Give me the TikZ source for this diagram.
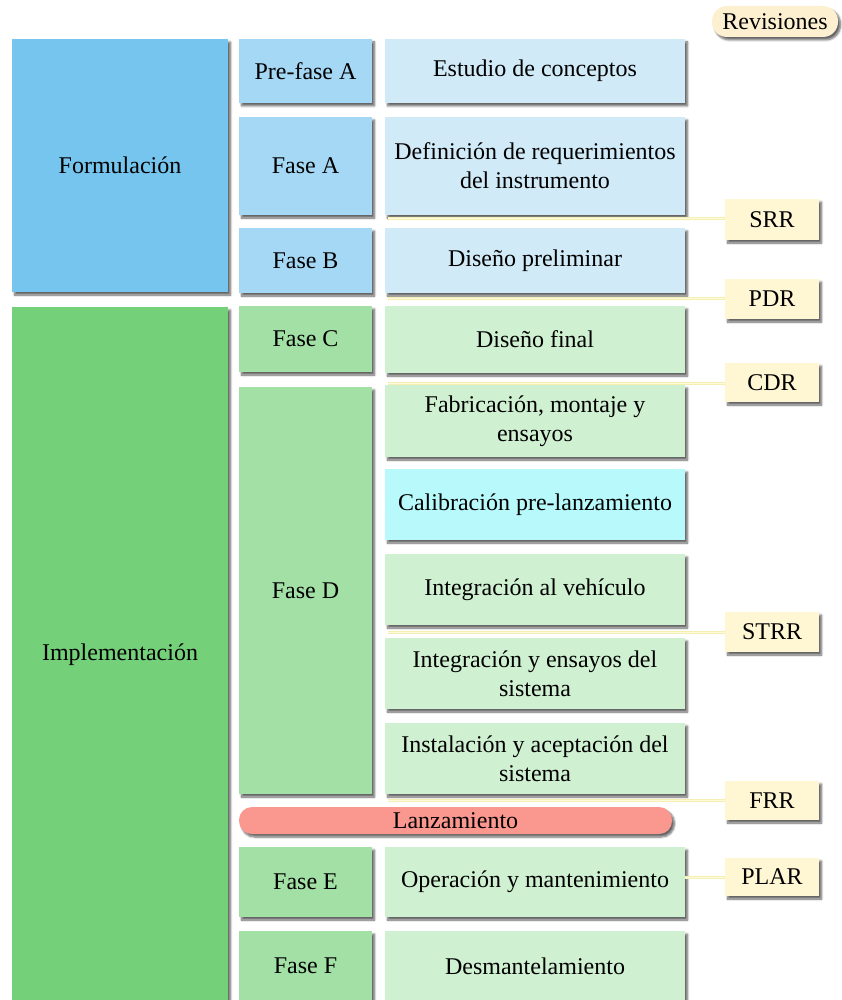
\documentclass[tikz,border=0pt]{standalone}
\usepackage{fontspec}
\setmainfont{Liberation Serif}
\usetikzlibrary{shadows,shadows.blur}
\definecolor{formB}{RGB}{117,197,238}
\definecolor{blueB}{RGB}{165,216,245}
\definecolor{blueC}{RGB}{208,234,248}
\definecolor{implG}{RGB}{117,208,122}
\definecolor{greenB}{RGB}{163,224,165}
\definecolor{greenC}{RGB}{208,240,210}
\definecolor{calib}{RGB}{184,250,252}
\definecolor{lanz}{RGB}{250,152,143}
\definecolor{revbox}{RGB}{255,247,212}
\definecolor{revpill}{RGB}{253,240,208}
\definecolor{connc}{RGB}{246,239,178}
\definecolor{connl}{RGB}{253,250,222}
\newcommand\pbox[7]{%
  \node[#2, minimum width={(#5-#3)*1pt}, minimum height={(#6-#4)*1pt}, anchor=north west] (#1) at (#3,-#4) {#7};}
\begin{document}
\begin{tikzpicture}[x=1pt,y=1pt,
  every node/.style={font=\fontsize{24}{29}\selectfont, inner sep=0pt, outer sep=0pt, align=center, text=black},
  shad/.style={blur shadow={shadow xshift=2.5pt,shadow yshift=-3pt,shadow blur steps=6,shadow blur radius=2pt,shadow opacity=60}},
  pbx/.style={fill=#1, shad},
  revb/.style={fill=revbox, shad},
  conn/.style={draw=connc, line width=3pt},
  connin/.style={draw=connl, line width=1pt}
]
\useasboundingbox (0,0) rectangle (842,-1000);
% column 1
\pbox{form}{pbx=formB}{12}{39}{228}{292}{Formulación}
\pbox{impl}{pbx=implG}{12}{307}{228}{1003}{Implementación}
% column 2
\pbox{prefa}{pbx=blueB}{239}{39}{372}{103}{Pre-fase A}
\pbox{fa}{pbx=blueB}{239}{117}{372}{215}{Fase A}
\pbox{fb}{pbx=blueB}{239}{228}{372}{293}{Fase B}
\pbox{fc}{pbx=greenB}{239}{306}{372}{372}{Fase C}
\pbox{fd}{pbx=greenB}{239}{387}{372}{794}{Fase D}
\pbox{fe}{pbx=greenB}{239}{847}{372}{917}{Fase E}
\pbox{ff}{pbx=greenB}{239}{931}{372}{1001}{Fase F}
% column 3
\pbox{est}{pbx=blueC}{385}{39}{685}{103}{Estudio de conceptos}
\pbox{defi}{pbx=blueC}{385}{117}{685}{215}{Definición de requerimientos\\del instrumento}
\pbox{dpre}{pbx=blueC}{385}{228}{685}{293}{Diseño preliminar}
\pbox{dfin}{pbx=greenC}{385}{306}{685}{373}{Diseño final}
\pbox{fab}{pbx=greenC}{385}{385}{685}{457}{Fabricación, montaje y\\ensayos}
\pbox{cal}{pbx=calib}{385}{469}{685}{540}{Calibración pre-lanzamiento}
\pbox{intv}{pbx=greenC}{385}{554}{685}{625}{Integración al vehículo}
\pbox{ints}{pbx=greenC}{385}{638}{685}{709}{Integración y ensayos del\\sistema}
\pbox{inst}{pbx=greenC}{385}{723}{685}{794}{Instalación y aceptación del\\sistema}
\pbox{oper}{pbx=greenC}{385}{847}{685}{917}{Operación y mantenimiento}
\pbox{desm}{pbx=greenC}{385}{931}{685}{1001}{Desmantelamiento}
% launch
\node[fill=lanz, shad, rounded corners=13pt, minimum width=433pt, minimum height=27pt, anchor=north west] (lanz) at (239,-807) {Lanzamiento};
% revisiones header
\node[fill=revpill, shad, rounded corners=15pt, minimum width=126pt, minimum height=31pt, anchor=north west] (rev) at (712,-6) {Revisiones};
% review boxes
\pbox{srr}{revb}{725}{199}{819}{240}{SRR}
\pbox{pdr}{revb}{725}{279}{819}{319}{PDR}
\pbox{cdr}{revb}{725}{363}{819}{402}{CDR}
\pbox{strr}{revb}{725}{612}{819}{652}{STRR}
\pbox{frr}{revb}{725}{781}{819}{820}{FRR}
\pbox{plar}{revb}{725}{858}{819}{896}{PLAR}
% connectors
\coordinate (csrr) at (388,-219);
\coordinate (cpdr) at (388,-298);
\coordinate (ccdr) at (388,-383);
\coordinate (cstrr) at (388,-632);
\coordinate (cfrr) at (388,-800);
\foreach \c/\r in {csrr/srr,cpdr/pdr,ccdr/cdr,cstrr/strr,cfrr/frr}{
  \draw[conn] (\c) -- (\r.west |- \c);
  \draw[connin] (\c) -- (\r.west |- \c);
}
\draw[conn] (oper.east |- plar.west) -- (plar.west);
\draw[connin] (oper.east |- plar.west) -- (plar.west);
\end{tikzpicture}
\end{document}
